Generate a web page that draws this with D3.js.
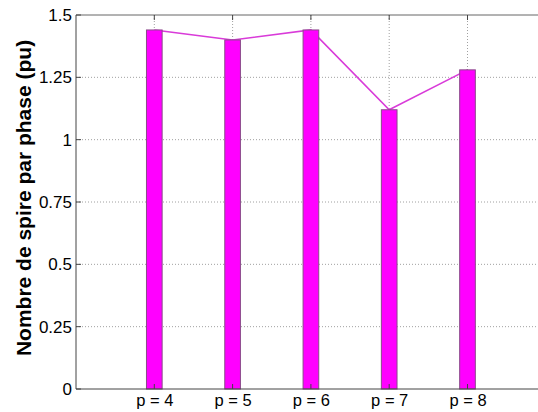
<!DOCTYPE html>
<html><head><meta charset="utf-8">
<script src="https://cdn.jsdelivr.net/npm/d3@7"></script>
<style>html,body{margin:0;padding:0;background:#fff;overflow:hidden}</style>
</head><body>
<script>
const categories = ["p = 4", "p = 5", "p = 6", "p = 7", "p = 8"];
const values = [1.44, 1.40, 1.44, 1.12, 1.28];
const yTicks = [0, 0.25, 0.5, 0.75, 1, 1.25, 1.5];
const yTickLabels = ["0", "0.25", "0.5", "0.75", "1", "1.25", "1.5"];
const yLabel = "Nombre de spire par phase (pu)";

(function () {
const W = 538, H = 412;
const mLeft = 76, mTop = 15, mBottom = 389, step = 78.3;
const svg = d3.select("body").append("svg").attr("width", W).attr("height", H);

const x = d3.scaleLinear().domain([0, 6]).range([mLeft, mLeft + 6 * step]);
const y = d3.scaleLinear().domain([0, 1.5]).range([mBottom, mTop]);
const idx = categories.map((c, i) => i + 1);
const barW = x(0.2) - x(0);

// grid
const g = svg.append("g");
g.selectAll(".hg").data(yTicks.slice(1, -1)).join("line")
  .attr("x1", mLeft).attr("x2", W).attr("y1", d => y(d)).attr("y2", d => y(d))
  .attr("stroke", "#a0a0a0").attr("stroke-width", 1).attr("stroke-dasharray", "1,2");
g.selectAll(".vg").data(idx).join("line")
  .attr("x1", d => x(d)).attr("x2", d => x(d)).attr("y1", mTop).attr("y2", mBottom)
  .attr("stroke", "#a0a0a0").attr("stroke-width", 1).attr("stroke-dasharray", "1,2");

// line
svg.append("path").datum(values)
  .attr("d", d3.line().x((d, i) => x(i + 1)).y(d => y(d)))
  .attr("fill", "none").attr("stroke", "#d93bd9").attr("stroke-width", 1.6);

// bars
svg.selectAll(".bar").data(values).join("rect")
  .attr("x", (d, i) => x(i + 1) - barW / 2).attr("width", barW)
  .attr("y", d => y(d)).attr("height", d => mBottom - y(d))
  .attr("fill", "#ff00ff").attr("stroke", "#8a4a8a").attr("stroke-width", 1);

// axes
const axColor = "#444";
svg.append("line").attr("x1", mLeft).attr("x2", W).attr("y1", mTop).attr("y2", mTop)
  .attr("stroke", "#666").attr("stroke-width", 1);
svg.append("line").attr("x1", mLeft).attr("x2", mLeft).attr("y1", mTop).attr("y2", mBottom)
  .attr("stroke", axColor).attr("stroke-width", 1);

const xAxis = d3.axisBottom(x).tickValues(idx).tickFormat((d, i) => categories[i]).tickSize(0).tickPadding(5);
const xa = svg.append("g").attr("transform", `translate(0,${mBottom})`).call(xAxis);
xa.select(".domain").attr("d", `M${mLeft},0H${W}`).attr("stroke", axColor);
xa.selectAll("text").attr("font-family", "Liberation Sans, Arial, sans-serif").attr("font-size", 16.5).attr("fill", "#000");

const yAxis = d3.axisLeft(y).tickValues(yTicks).tickFormat((d, i) => yTickLabels[i]).tickSize(0).tickPadding(4);
const ya = svg.append("g").attr("transform", `translate(${mLeft},0)`).call(yAxis);
ya.select(".domain").remove();
ya.selectAll("text").attr("font-family", "Liberation Sans, Arial, sans-serif").attr("font-size", 17).attr("fill", "#000");

// inward tick marks
svg.selectAll(".xtb").data(idx).join("line")
  .attr("x1", d => x(d)).attr("x2", d => x(d)).attr("y1", mBottom).attr("y2", mBottom - 5)
  .attr("stroke", axColor);
svg.selectAll(".xtt").data(idx).join("line")
  .attr("x1", d => x(d)).attr("x2", d => x(d)).attr("y1", mTop).attr("y2", mTop + 5)
  .attr("stroke", axColor);
svg.selectAll(".yt").data(yTicks).join("line")
  .attr("x1", mLeft).attr("x2", mLeft + 5).attr("y1", d => y(d)).attr("y2", d => y(d))
  .attr("stroke", axColor);

svg.append("text").text(yLabel)
  .attr("transform", `translate(31,198) rotate(-90)`)
  .attr("text-anchor", "middle")
  .attr("font-family", "Liberation Sans, Arial, sans-serif").attr("font-weight", "bold")
  .attr("font-size", 21).attr("fill", "#000");
})();
</script>
</body></html>
